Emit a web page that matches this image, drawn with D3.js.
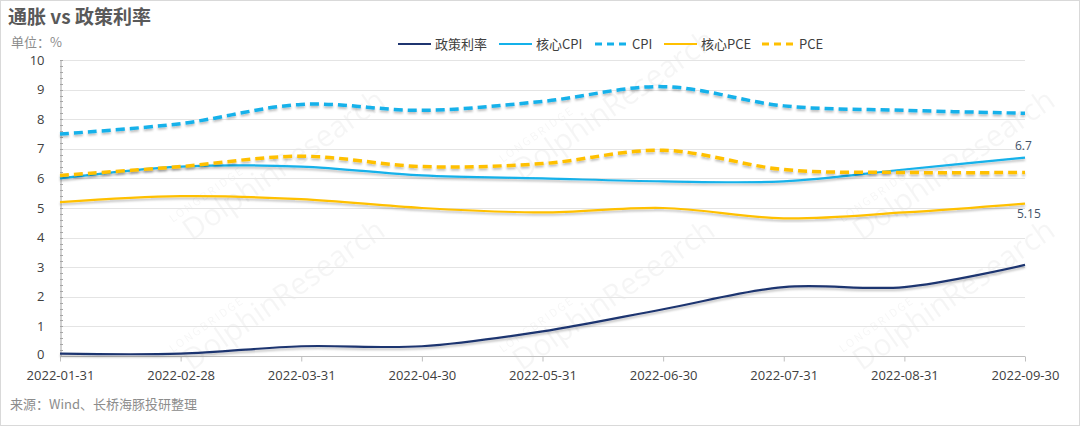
<!DOCTYPE html>
<meta charset="utf-8">
<html>
<head>
<script src="https://d3js.org/d3.v7.min.js"></script>
<style>
    body { margin: 0; background: #fff; font-family: "Noto Sans CJK SC", "Noto Sans", sans-serif; }
    svg { display: block; }
</style>
</head>
<body>
<svg id="chart"></svg>
<script>

var dates = ["2022-01-31", "2022-02-28", "2022-03-31", "2022-04-30", "2022-05-31",
             "2022-06-30", "2022-07-31", "2022-08-31", "2022-09-30"]
var policyRate = [0.08, 0.08, 0.33, 0.33, 0.83, 1.58, 2.33, 2.33, 3.08]
var coreCpi = [6.0, 6.4, 6.4, 6.1, 6.0, 5.9, 5.9, 6.3, 6.7]
var cpi = [7.5, 7.85, 8.5, 8.3, 8.6, 9.1, 8.45, 8.3, 8.2]
var corePce = [5.2, 5.4, 5.3, 5.0, 4.85, 5.0, 4.65, 4.85, 5.15]
var pce = [6.1, 6.4, 6.75, 6.4, 6.5, 6.95, 6.3, 6.2, 6.2]
var yTicks = [0, 1, 2, 3, 4, 5, 6, 7, 8, 9, 10]

var series = [
    {name: "政策利率", values: policyRate, color: "#1f3570", dash: null},
    {name: "核心CPI", values: coreCpi, color: "#14b1ea", dash: null},
    {name: "CPI", values: cpi, color: "#14b1ea", dash: "9,5"},
    {name: "核心PCE", values: corePce, color: "#ffc000", dash: null},
    {name: "PCE", values: pce, color: "#ffc000", dash: "9,5"}
]

var width = 1080, height = 429
var mLeft = 60, mRight = 1025, mTop = 60, mBottom = 356

var svg = d3.select("#chart").attr("width", width).attr("height", height)

// frame
svg.append("rect")
    .attr("x", 0.5).attr("y", 0.5)
    .attr("width", width - 1).attr("height", height - 4)
    .attr("fill", "#fff").attr("stroke", "#d9d9d9")

var defs = svg.append("defs")
var shadow = defs.append("filter").attr("id", "shadow")
    .attr("x", "-5%").attr("y", "-20%").attr("width", "110%").attr("height", "140%")
shadow.append("feDropShadow")
    .attr("dx", 0).attr("dy", 2).attr("stdDeviation", 1)
    .attr("flood-color", "#000").attr("flood-opacity", 0.25)

var x = d3.scalePoint().domain(dates).range([mLeft, mRight])
var y = d3.scaleLinear().domain([0, 10]).range([mBottom, mTop])

// watermarks
var marks = [[230, 200], [230, 330], [560, 140], [560, 330], [900, 200], [900, 330]]
marks.forEach(function(m) {
    var g = svg.append("g")
        .attr("transform", "translate(" + m[0] + "," + m[1] + ") rotate(-35)")
        .attr("fill", "#000").attr("opacity", 0.035)
    g.append("text").attr("x", -60).attr("y", -14)
        .attr("font-size", 11).attr("letter-spacing", 2).text("LONGBRIDGE")
    g.append("text").attr("x", -55).attr("y", 12)
        .attr("font-size", 30).attr("font-family", "Open Sans").text("DolphinResearch")
})

// gridlines
svg.append("g").selectAll("line")
    .data(yTicks.slice(1))
    .join("line")
    .attr("x1", mLeft).attr("x2", mRight)
    .attr("y1", d => Math.round(y(d)) + 0.5).attr("y2", d => Math.round(y(d)) + 0.5)
    .attr("stroke", "#e4e4e4")

// y axis with minor ticks
var yMinor = d3.range(0, 10.01, 0.2)
svg.append("g").selectAll("line")
    .data(yMinor)
    .join("line")
    .attr("x1", mLeft).attr("x2", mLeft + 3)
    .attr("y1", d => Math.round(y(d)) + 0.5).attr("y2", d => Math.round(y(d)) + 0.5)
    .attr("stroke", "#a6a6a6")

var yAxis = svg.append("g")
    .attr("transform", "translate(" + (mLeft + 0.5) + ",0)")
    .call(d3.axisLeft(y).tickValues(yTicks).tickSize(0).tickPadding(16))
yAxis.select(".domain").attr("stroke", "#a6a6a6")
yAxis.selectAll("text").attr("font-size", 13).attr("fill", "#404040")
    .attr("font-family", "Open Sans, sans-serif")
yAxis.selectAll(".tick").filter(d => d === 0).select("text").attr("dy", "0.2em")

// x axis
var xAxis = svg.append("g")
    .attr("transform", "translate(0," + (mBottom + 0.5) + ")")
    .call(d3.axisBottom(x).tickSize(5).tickPadding(9))
xAxis.select(".domain").attr("stroke", "#bfbfbf").attr("d", "M" + mLeft + ",0H" + mRight)
xAxis.selectAll(".tick line").attr("stroke", "#bfbfbf")
xAxis.selectAll("text").attr("font-size", 13).attr("fill", "#404040")
    .attr("font-family", "Open Sans, sans-serif")

// lines
var line = d3.line()
    .x((d, i) => x(dates[i]))
    .y(d => y(d))
    .curve(d3.curveCatmullRom.alpha(0))

svg.append("g").selectAll("path")
    .data(series)
    .join("path")
    .attr("d", d => line(d.values))
    .attr("fill", "none")
    .attr("stroke", d => d.color)
    .attr("stroke-width", d => d.dash ? 3.5 : 2.2)
    .attr("stroke-dasharray", d => d.dash)
    .attr("filter", "url(#shadow)")

// end labels
svg.append("text")
    .attr("x", x(dates[8]) - 10).attr("y", y(coreCpi[8]) - 8)
    .attr("font-size", 12).attr("fill", "#44546a").attr("font-family", "Open Sans, sans-serif")
    .text(coreCpi[8])
svg.append("text")
    .attr("x", x(dates[8]) - 8).attr("y", y(corePce[8]) + 14)
    .attr("font-size", 12).attr("fill", "#44546a").attr("font-family", "Open Sans, sans-serif")
    .text(corePce[8])

// title, unit, source
svg.append("text").attr("x", 8).attr("y", 24)
    .attr("font-size", 19).attr("font-weight", "bold").attr("fill", "#595959")
    .text("通胀 vs 政策利率")
svg.append("text").attr("x", 11).attr("y", 47)
    .attr("font-size", 13).attr("fill", "#8c8c8c")
    .text("单位：%")
svg.append("text").attr("x", 10).attr("y", 409)
    .attr("font-size", 13).attr("fill", "#8c8c8c")
    .text("来源：Wind、长桥海豚投研整理")

// legend
var legendX = [398, 499, 595, 664, 762]
var legend = svg.append("g").selectAll("g")
    .data(series)
    .join("g")
    .attr("transform", (d, i) => "translate(" + legendX[i] + ",44)")
legend.append("line")
    .attr("x1", 0).attr("x2", 33)
    .attr("stroke", d => d.color)
    .attr("stroke-width", d => d.dash ? 3.2 : 2.2)
    .attr("stroke-dasharray", d => d.dash ? "7,5" : null)
legend.append("text")
    .attr("x", 37).attr("y", 5)
    .attr("font-size", 13).attr("fill", "#404040")
    .text(d => d.name)

</script>
</body>
</html>
